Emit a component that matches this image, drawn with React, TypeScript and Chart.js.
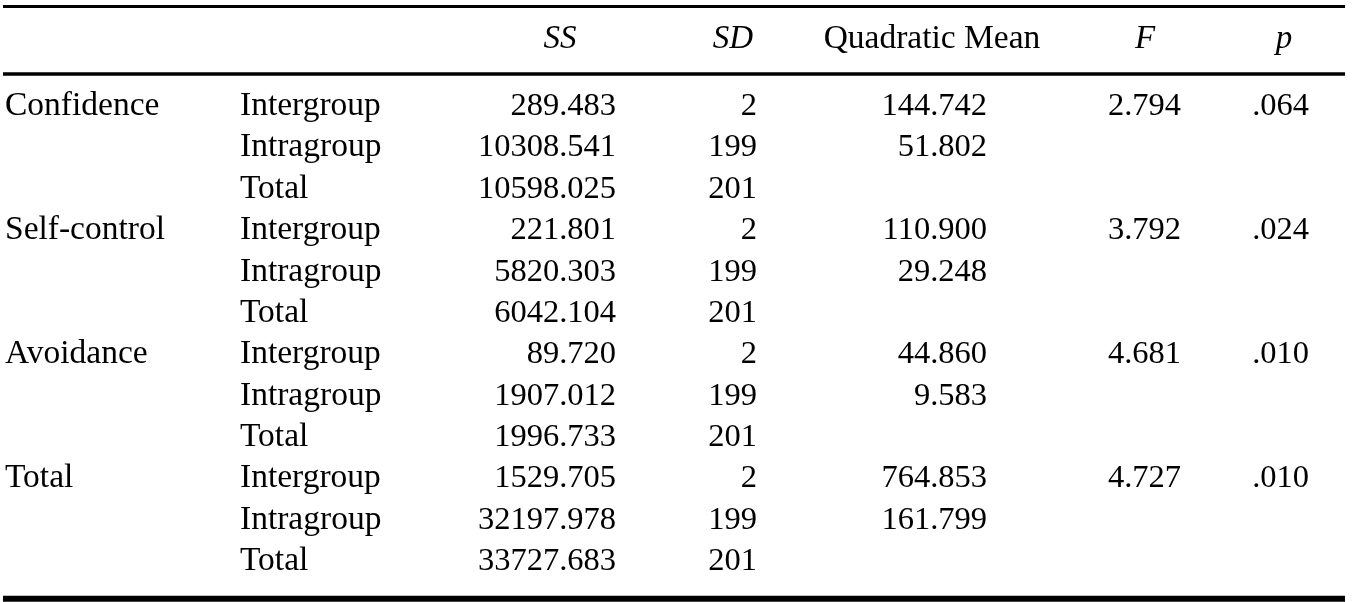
import React, { useEffect, useRef } from "react";
import { Chart, registerables } from "chart.js";

Chart.register(...registerables);

// ---- data ----
const measures = ["Confidence", "Self-control", "Avoidance", "Total"];
const sources = ["Intergroup", "Intragroup", "Total"];
const headers = ["SS", "SD", "Quadratic Mean", "F", "p"];
const headerItalic = [true, true, false, true, true];
const ssValues = [
  289.483, 10308.541, 10598.025,
  221.801, 5820.303, 6042.104,
  89.72, 1907.012, 1996.733,
  1529.705, 32197.978, 33727.683,
];
const sdValues = [2, 199, 201];
const meanSquareValues = [
  144.742, 51.802, null,
  110.9, 29.248, null,
  44.86, 9.583, null,
  764.853, 161.799, null,
];
const fValues = [2.794, 3.792, 4.681, 4.727];
const pValues = [0.064, 0.024, 0.01, 0.01];

// ---- layout (in scale units) ----
const W = 1353;
const H = 602;
const ROW_TOP = -2.78; // y-scale min (row index units)
const ROW_BOTTOM = 11.77; // y-scale max
const HEADER_ROW = -1.62;
const RULES = [
  { row: -2.62, width: 3 },
  { row: -0.99, width: 3.5 },
  { row: 11.69, width: 6 },
];
const RULE_X0 = 3;
const RULE_X1 = 1345;
const COL_MEASURE_LEFT = 5;
const COL_SOURCE_LEFT = 240;
const COL_RIGHTS = [616, 757, 987, 1181, 1309];
const HEADER_CENTERS = [560, 733, 932, 1145, 1284];
const FAMILY = "'Liberation Serif', 'Times New Roman', serif";
const FONT_LABEL = `33.5px ${FAMILY}`;
const FONT_NUM = `32.5px ${FAMILY}`;
const FONT_IT = `italic 33px ${FAMILY}`;

const fmt3 = (v: number) => v.toFixed(3);
const fmtP = (v: number) => v.toFixed(3).replace(/^0/, "");

const tablePlugin = {
  id: "tablePlugin",
  afterDraw(chart: any) {
    const ctx = chart.ctx;
    const xs = chart.scales.x;
    const ys = chart.scales.y;
    ctx.save();
    ctx.fillStyle = "#000";
    ctx.strokeStyle = "#000";
    // rules
    RULES.forEach((r) => {
      const y = ys.getPixelForValue(r.row);
      ctx.lineWidth = r.width;
      ctx.beginPath();
      ctx.moveTo(xs.getPixelForValue(RULE_X0), y);
      ctx.lineTo(xs.getPixelForValue(RULE_X1), y);
      ctx.stroke();
    });
    ctx.textBaseline = "alphabetic";
    // headers
    ctx.textAlign = "center";
    headers.forEach((h, i) => {
      ctx.font = headerItalic[i] ? FONT_IT : FONT_LABEL;
      ctx.fillText(h, xs.getPixelForValue(HEADER_CENTERS[i]), ys.getPixelForValue(HEADER_ROW));
    });
    measures.forEach((m, mi) => {
      const base = mi * sources.length;
      ctx.font = FONT_LABEL;
      ctx.textAlign = "left";
      ctx.fillText(m, xs.getPixelForValue(COL_MEASURE_LEFT), ys.getPixelForValue(base));
      sources.forEach((s, si) => {
        const row = base + si;
        const y = ys.getPixelForValue(row);
        ctx.font = FONT_LABEL;
        ctx.textAlign = "left";
        ctx.fillText(s, xs.getPixelForValue(COL_SOURCE_LEFT), y);
        ctx.font = FONT_NUM;
        ctx.textAlign = "right";
        ctx.fillText(fmt3(ssValues[row]), xs.getPixelForValue(COL_RIGHTS[0]), y);
        ctx.fillText(String(sdValues[si]), xs.getPixelForValue(COL_RIGHTS[1]), y);
        const ms = meanSquareValues[row];
        if (ms !== null) ctx.fillText(fmt3(ms), xs.getPixelForValue(COL_RIGHTS[2]), y);
        if (si === 0) {
          ctx.fillText(fmt3(fValues[mi]), xs.getPixelForValue(COL_RIGHTS[3]), y);
          ctx.fillText(fmtP(pValues[mi]), xs.getPixelForValue(COL_RIGHTS[4]), y);
        }
      });
    });
    ctx.restore();
  },
};

export default function App() {
  const ref = useRef<HTMLCanvasElement | null>(null);
  useEffect(() => {
    document.body.style.margin = "0";
    document.body.style.background = "#fff";
    if (!ref.current) return;
    const chart = new Chart(ref.current, {
      type: "scatter",
      data: { datasets: [{ data: [], pointRadius: 0 }] },
      options: {
        animation: false,
        responsive: false,
        maintainAspectRatio: false,
        layout: { padding: 0 },
        plugins: { legend: { display: false }, tooltip: { enabled: false } },
        scales: {
          x: { type: "linear", min: 0, max: W, display: false },
          y: { type: "linear", min: ROW_TOP, max: ROW_BOTTOM, reverse: true, display: false },
        },
      },
      plugins: [tablePlugin],
    });
    return () => chart.destroy();
  }, []);
  return (
    <div style={{ width: W, height: H, background: "#fff" }}>
      <canvas ref={ref} width={W} height={H} style={{ display: "block" }} />
    </div>
  );
}
